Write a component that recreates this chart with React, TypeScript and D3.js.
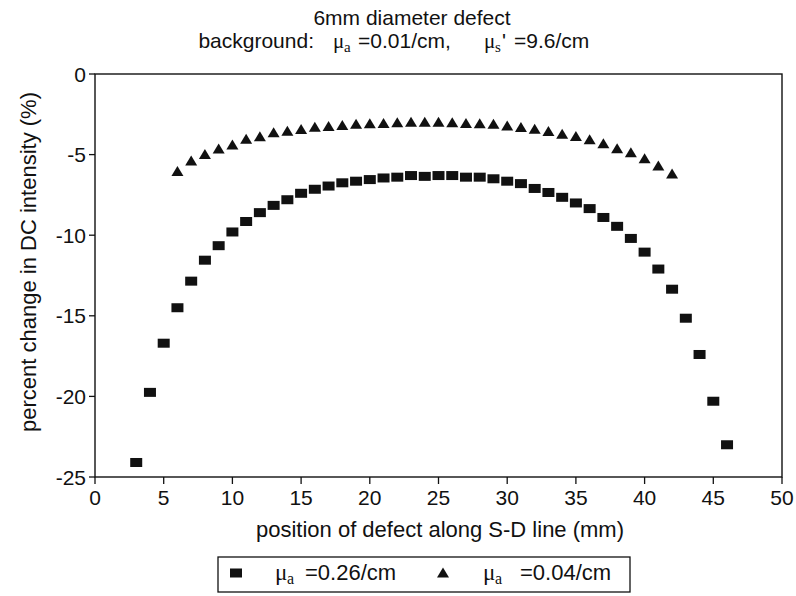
import React from 'react';
import * as d3 from 'd3';

// mu_a = 0.26/cm (squares)
const squareX = [3, 4, 5, 6, 7, 8, 9, 10, 11, 12, 13, 14, 15, 16, 17, 18, 19, 20, 21, 22, 23, 24,
  25, 26, 27, 28, 29, 30, 31, 32, 33, 34, 35, 36, 37, 38, 39, 40, 41, 42, 43, 44, 45, 46];
const squareY = [-24.1, -19.75, -16.7, -14.5, -12.85, -11.55, -10.65, -9.8, -9.15, -8.6, -8.15, -7.8,
  -7.4, -7.15, -6.95, -6.75, -6.65, -6.55, -6.45, -6.4, -6.3, -6.35, -6.3, -6.3, -6.4, -6.4, -6.5,
  -6.65, -6.8, -7.1, -7.35, -7.65, -8.0, -8.35, -8.9, -9.45, -10.2, -11.05, -12.1, -13.35, -15.15,
  -17.4, -20.3, -23.0];

// mu_a = 0.04/cm (triangles)
const triX = [6, 7, 8, 9, 10, 11, 12, 13, 14, 15, 16, 17, 18, 19, 20, 21, 22, 23, 24, 25, 26, 27,
  28, 29, 30, 31, 32, 33, 34, 35, 36, 37, 38, 39, 40, 41, 42];
const triY = [-6.05, -5.4, -5.0, -4.65, -4.4, -4.05, -3.9, -3.65, -3.55, -3.45, -3.3, -3.25, -3.2,
  -3.12, -3.08, -3.07, -3.03, -3.0, -3.0, -3.0, -3.02, -3.07, -3.08, -3.12, -3.22, -3.32, -3.42,
  -3.57, -3.73, -3.88, -4.08, -4.32, -4.63, -4.88, -5.25, -5.7, -6.2];

const xTicks = [0, 5, 10, 15, 20, 25, 30, 35, 40, 45, 50];
const yTicks = [0, -5, -10, -15, -20, -25];

const W = 796, H = 596;
const M = { left: 95, right: 782, top: 74, bottom: 477 };
const SANS = 'Liberation Sans, Arial, Helvetica, sans-serif';
const SERIF = 'Liberation Serif, Times New Roman, serif';
const FS = 21;

const Square = ({ x, y }: { x: number; y: number }) => (
  <rect x={x - 6} y={y - 4.5} width={12} height={9} fill="#111" />
);

const Tri = ({ x, y }: { x: number; y: number }) => (
  <path d={`M${x},${y - 5.5}L${x + 6},${y + 4.5}L${x - 6},${y + 4.5}Z`} fill="#111" />
);

// mu with serif subscript (symbol font in the original), then the sans text
const MuLabel = ({ x, y, sub, prime, rest, size, muSize, restX }:
  { x: number; y: number; sub: string; prime?: boolean; rest: string; size: number; muSize: number; restX: number }) => (
  <g>
    <text x={x} y={y} fontFamily={SERIF} fontSize={muSize}>μ</text>
    <text x={x + muSize * 0.52} y={y + 4} fontFamily={SERIF} fontSize={size - 6}>{sub}</text>
    {prime && <text x={x + muSize * 0.52 + 7} y={y} fontSize={size}>'</text>}
    <text x={restX} y={y} fontSize={size}>{rest}</text>
  </g>
);

export default function App() {
  const x = d3.scaleLinear().domain([0, 50]).range([M.left, M.right]);
  const y = d3.scaleLinear().domain([-25, 0]).range([M.bottom, M.top]);

  return (
    <svg width={W} height={H} style={{ display: 'block', position: 'absolute', left: 0, top: 0, background: '#fff' }}
      fontFamily={SANS} fontSize={FS} fill="#111">
      {/* title */}
      <text x={412} y={25} textAnchor="middle">6mm diameter defect</text>
      <text x={314} y={48} textAnchor="end">background:</text>
      <MuLabel x={333} y={48} sub="a" rest="=0.01/cm," size={21} muSize={21} restX={358} />
      <MuLabel x={484} y={48} sub="s" prime rest="=9.6/cm" size={21} muSize={21} restX={514} />

      {/* frame */}
      <rect x={M.left} y={M.top} width={M.right - M.left} height={M.bottom - M.top}
        fill="none" stroke="#111" strokeWidth={1.4} />

      {/* y axis */}
      {yTicks.map(t => (
        <g key={t}>
          <line x1={M.left - 6} x2={M.left} y1={y(t)} y2={y(t)} stroke="#111" strokeWidth={1.3} />
          <text x={M.left - 9} y={y(t)} dy="0.36em" textAnchor="end">{t}</text>
        </g>
      ))}
      <text transform={`translate(36,262) rotate(-90)`} textAnchor="middle" fontSize={22}>
        percent change in DC intensity (%)
      </text>

      {/* x axis */}
      {xTicks.map(t => (
        <g key={t}>
          <line x1={x(t)} x2={x(t)} y1={M.bottom} y2={M.bottom + 7} stroke="#111" strokeWidth={1.3} />
          <text x={x(t)} y={M.bottom + 28} textAnchor="middle">{t}</text>
        </g>
      ))}
      <text x={440} y={M.bottom + 60} textAnchor="middle" fontSize={22}>
        position of defect along S-D line (mm)
      </text>

      {/* data */}
      {triX.map((d, i) => <Tri key={'t' + i} x={x(d)} y={y(triY[i])} />)}
      {squareX.map((d, i) => <Square key={'s' + i} x={x(d)} y={y(squareY[i])} />)}

      {/* legend */}
      <rect x={218} y={557} width={412} height={35} fill="none" stroke="#111" strokeWidth={1.3} />
      <Square x={236} y={573} />
      <MuLabel x={275} y={580} sub="a" rest="=0.26/cm" size={22} muSize={23} restX={305} />
      <Tri x={443} y={573} />
      <MuLabel x={483} y={580} sub="a" rest="=0.04/cm" size={22} muSize={23} restX={520} />
    </svg>
  );
}
